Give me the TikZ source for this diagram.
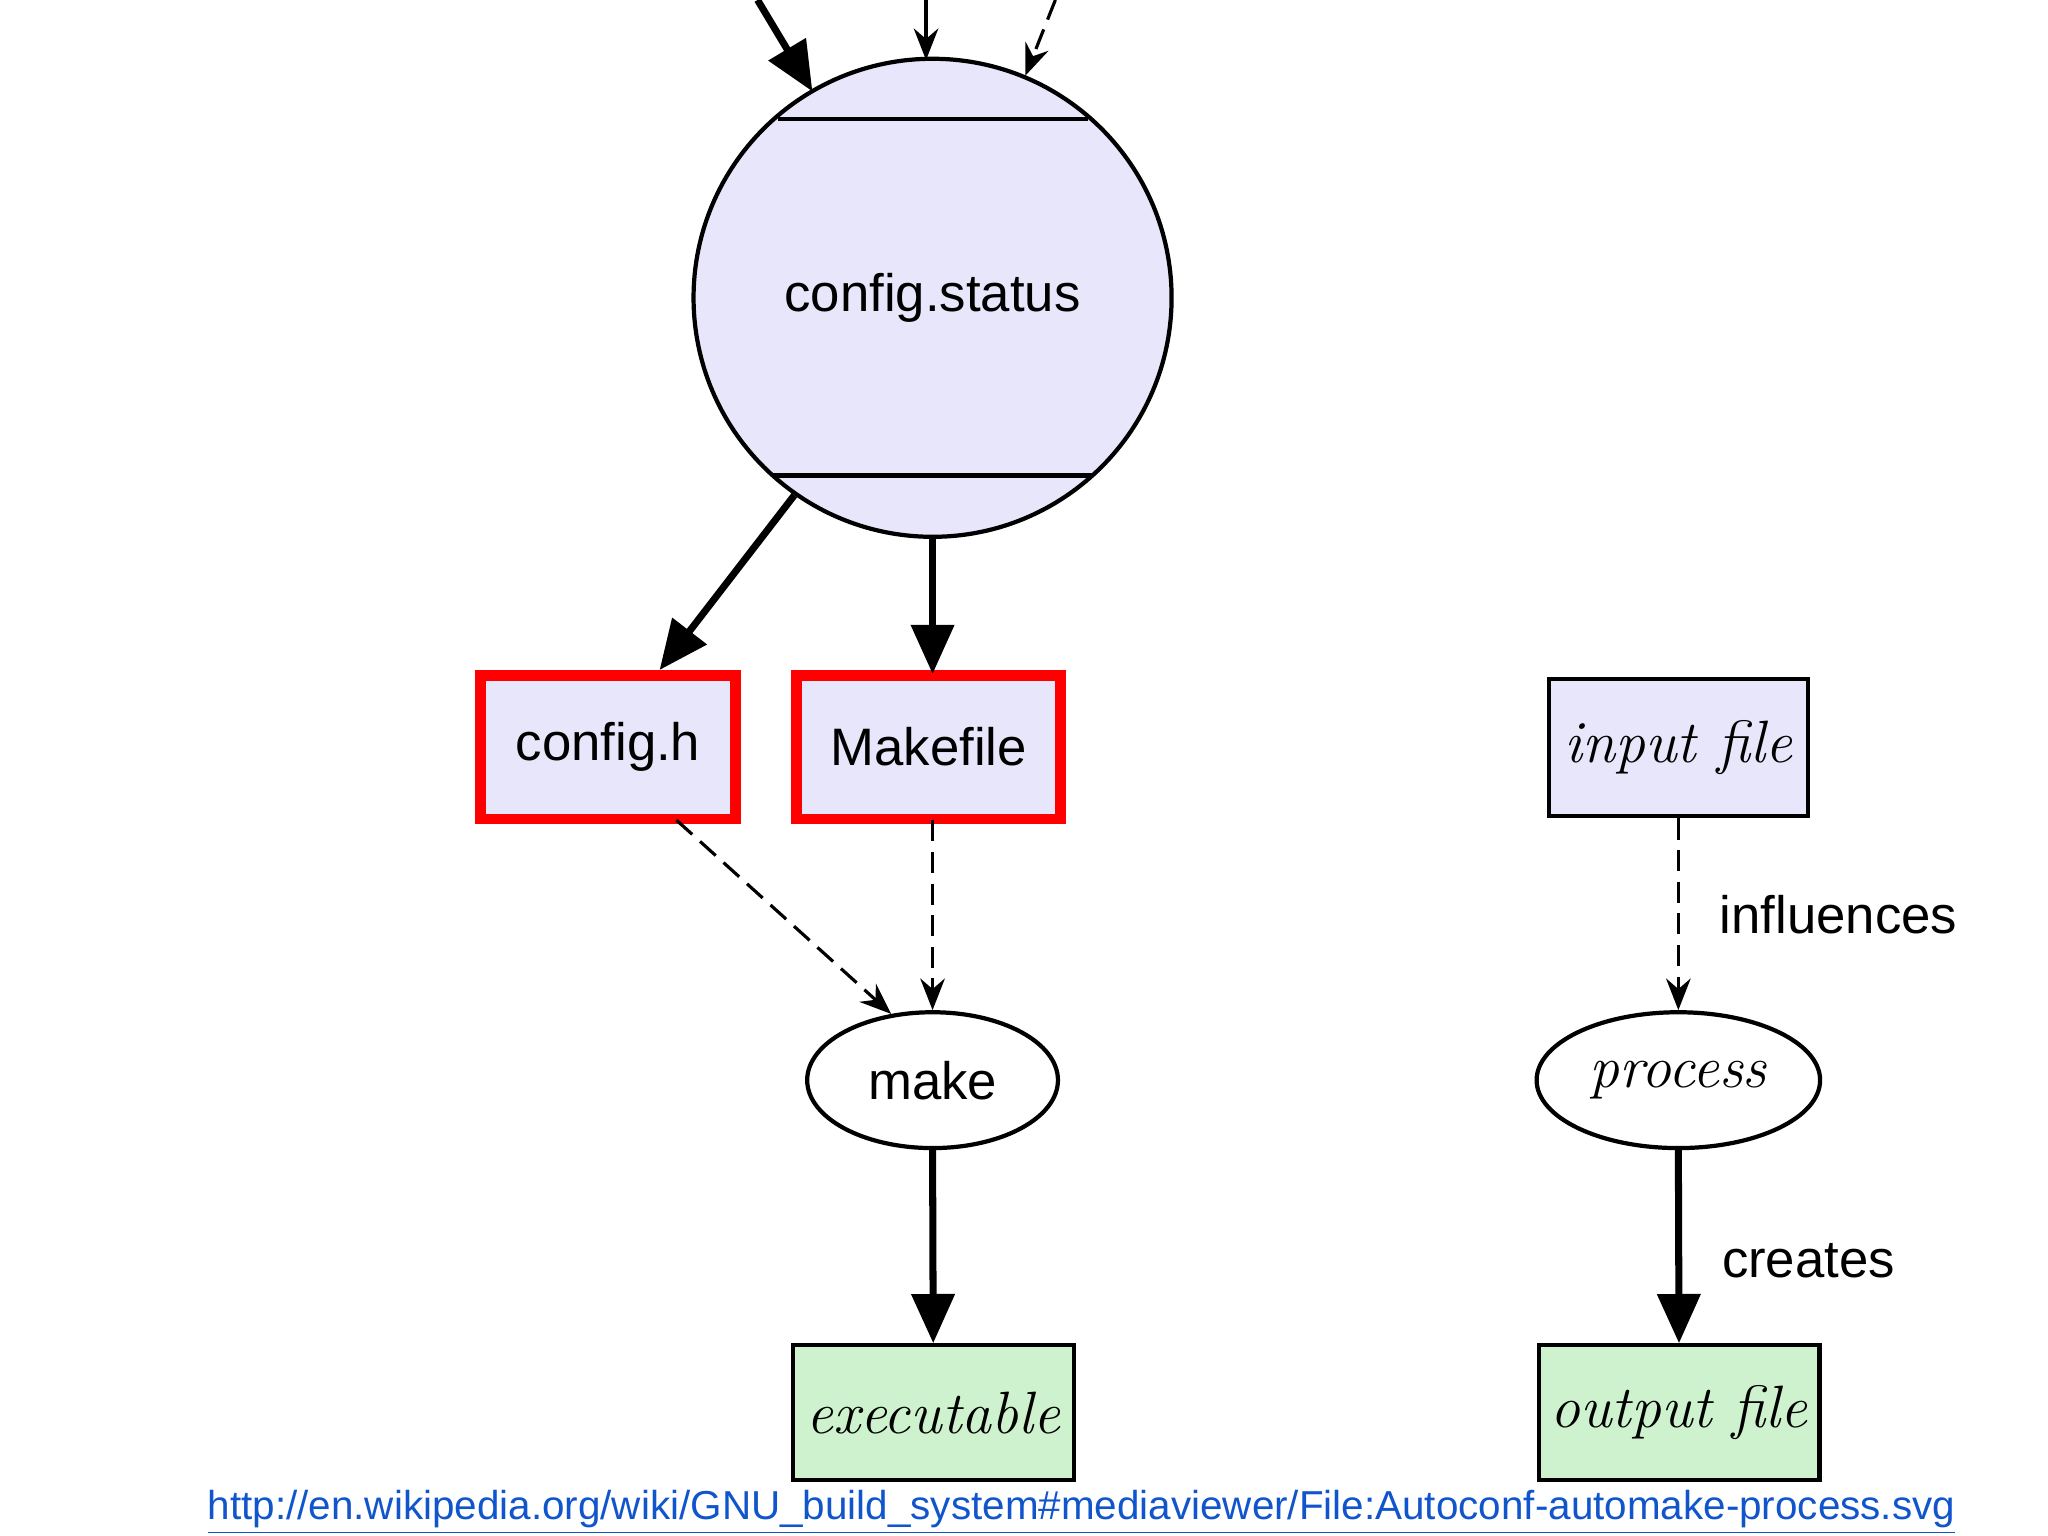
\documentclass[tikz,border=0pt]{standalone}
\usepackage{fontspec}
\setmainfont{Liberation Sans}
\usetikzlibrary{arrows.meta,shapes.geometric}
\definecolor{lav}{HTML}{E8E6FA}
\definecolor{grn}{HTML}{CDF2CD}
\definecolor{urlblue}{HTML}{1155CC}
\newfontfamily\itserif{Latin Modern Roman}
\begin{document}
\begin{tikzpicture}[x=0.01306cm,y=-0.01306cm,
  sans/.style={font=\fontsize{15}{18}\selectfont},
  ital/.style={font=\itserif\itshape\fontsize{17}{20}\selectfont},
  box/.style={draw,line width=1.2pt,fill=lav,inner sep=0pt},
  redbox/.style={draw=red,line width=3pt,fill=lav,inner sep=0pt},
  gbox/.style={draw,line width=1.2pt,fill=grn,inner sep=0pt},
  thick arr/.style={line width=2pt,-{Triangle[length=14pt,width=12pt]}},
  thin arr/.style={line width=0.9pt,-{Stealth[length=9pt,width=7pt,inset=3pt]}},
  dash arr/.style={thin arr,dash pattern=on 6pt off 3pt}]
\useasboundingbox (0,0) rectangle (1568,1176);
% config.status
\node[draw,circle,line width=1.2pt,fill=lav,minimum size=366\pgflinewidth*0+366*0.01306cm,inner sep=0pt,sans] (cs) at (714,228) {config.status};
\draw[line width=1.2pt] (596,91) -- (833,91);
\draw[line width=1.2pt] (592,364) -- (836,364);
% incoming arrows from above
\coordinate (t1) at (580,0);
\coordinate (t2) at (709,0);
\coordinate (t3) at (808,0);
\coordinate (h1) at (622,70);
\coordinate (h2) at (709,46);
\coordinate (h3) at (785,58);
\draw[thick arr] (t1) -- (h1);
\draw[thin arr] (t2) -- (h2);
\draw[dash arr] (t3) -- (h3);
% generated files
\node[redbox,minimum width=195*0.01306cm,minimum height=110*0.01306cm,sans] (ch) at (465.5,572) {config.h};
\node[redbox,minimum width=202*0.01306cm,minimum height=110*0.01306cm,sans] (mf) at (711,572) {Makefile};
\draw[thick arr] (cs.235) -- (ch.north east -| 505,0);
\draw[thick arr] (cs.south) -- (714,516);
% make
\node[draw,ellipse,line width=1.2pt,fill=white,minimum width=192*0.01306cm,minimum height=104*0.01306cm,sans] (mk) at (714,827) {make};
\draw[dash arr] (518,628) -- (mk.122);
\draw[dash arr] (714,628) -- (mk.north);
\node[gbox,minimum width=215*0.01306cm,minimum height=103*0.01306cm,ital] (ex) at (714.5,1081.5) {executable};
\draw[thick arr] (mk.south) -- (ex.north);
% legend
\node[box,minimum width=198*0.01306cm,minimum height=105*0.01306cm,ital] (in) at (1285,572.5) {input file};
\node[draw,ellipse,line width=1.2pt,fill=white,minimum width=214*0.01306cm,minimum height=104*0.01306cm,ital] (pr) at (1285,827) {process};
\node[gbox,minimum width=215*0.01306cm,minimum height=103*0.01306cm,ital] (of) at (1285.5,1081.5) {output file};
\draw[dash arr] (in.south) -- node[right,sans,xshift=8pt] {influences} (pr.north);
\draw[thick arr] (pr.south) -- node[right,sans,xshift=8pt,yshift=-4pt] {creates} (of.north);
% source
\node[font=\fontsize{11.5}{14}\selectfont,text=urlblue] (url) at (828,1158) {\underline{http://en.wikipedia.org/wiki/GNU\_build\_system\#mediaviewer/File:Autoconf-automake-process.svg}};
\end{tikzpicture}
\end{document}
